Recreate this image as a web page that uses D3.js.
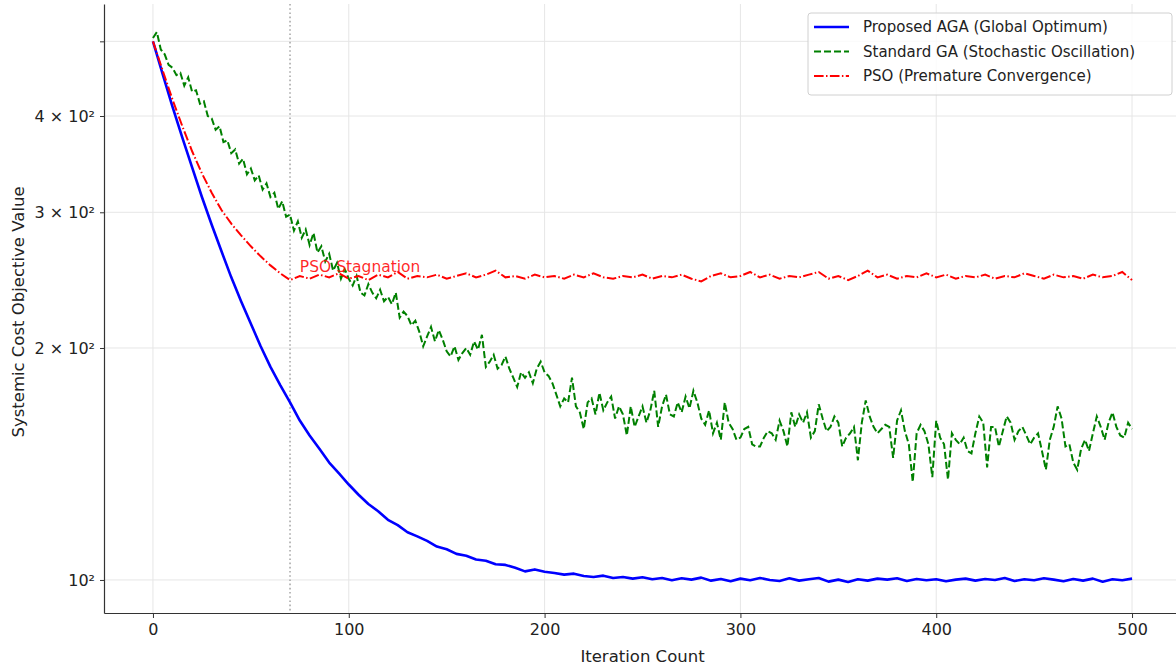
<!DOCTYPE html>
<html>
<head>
<meta charset="utf-8">
<script src="https://cdn.jsdelivr.net/npm/d3@7"></script>
<style>
  body { margin: 0; background: #fff; }
  text { font-family: "DejaVu Sans", sans-serif; }
</style>
</head>
<body>
<div id="chart"></div>
<script>
// series names
const seriesNames = [
    "Proposed AGA (Global Optimum)",
    "Standard GA (Stochastic Oscillation)",
    "PSO (Premature Convergence)"
];

// AGA cost, sampled every 5 iterations (0..500)
const agaValues = [
    500, 453, 411, 375, 343, 314, 289, 267, 247, 230,
    215, 201, 189, 179, 170, 161, 154, 148, 142, 137.5,
    133, 129, 125.5, 122.8, 119.7, 117.8, 115.3, 113.9, 112.4, 110.5,
    109.6, 108.1, 107.5, 106.3, 105.9, 104.8, 104.6, 103.7, 102.6, 103.2,
    102.5, 102.1, 101.6, 101.9, 101.2, 100.9, 101.3, 100.6, 100.9, 100.4,
    100.8, 100.2, 100.6, 99.9, 100.5, 100.1, 100.7, 99.8, 100.3, 99.6,
    100.4, 99.9, 100.6, 100.0, 99.7, 100.5, 99.8, 100.2, 100.6, 99.5,
    100.1, 99.4, 100.2, 99.8, 100.4, 100.1, 100.5, 99.7, 100.3, 99.9,
    100.2, 99.6, 100.1, 100.4, 99.8, 100.3, 100.0, 100.6, 99.7, 100.2,
    99.9, 100.5, 100.1, 99.6, 100.3, 99.8, 100.4, 99.5, 100.2, 99.9,
    100.4
];

// Standard GA cost, sampled every 2 iterations (0..500)
const gaValues = [
    505, 514, 488, 481, 466,  462, 452, 455, 438, 449,
    430, 432, 415, 418, 400,  397, 384, 388, 370, 372,
    358, 362, 347, 352, 336,  342, 330, 335, 321, 327,
    314, 318, 303, 310, 296,  298, 284, 292, 278, 285,
    272, 282, 266, 271, 259,  265, 252, 258, 246, 253,
    246, 241, 248, 236, 234,  242, 236, 232, 238, 230,
    233, 228, 236, 219, 223,  220, 214, 217, 210, 201,
    207, 213, 204, 211, 205,  198, 195, 201, 193, 197,
    200, 196, 204, 199, 208,  189, 192, 196, 188, 190,
    195, 188, 183, 178, 186,  183, 186, 180, 188, 192,
    186, 184, 180, 174, 168,  172, 170, 183, 168, 165,
    157, 170, 172, 164, 175,  166, 170, 173, 162, 168,
    164, 154, 168, 158, 163,  168, 160, 166, 176, 158,
    168, 174, 164, 163, 170,  165, 173, 167, 176, 170,
    162, 159, 166, 155, 160,  152, 170, 160, 157, 152,
    153, 157, 158, 150, 149,  149, 153, 156, 155, 152,
    161, 156, 149, 165, 158,  164, 160, 165, 153, 156,
    169, 162, 156, 158, 163,  160, 149, 153, 155, 158,
    143, 160, 171, 163, 158,  155, 157, 159, 158, 144,
    161, 166, 156, 150, 134,  155, 159, 156, 150, 136,
    161, 153, 150, 135, 155,  152, 150, 153, 147, 146,
    155, 163, 160, 140, 158,  158, 149, 156, 163, 160,
    152, 156, 158, 154, 150,  153, 155, 147, 139, 152,
    158, 168, 162, 149, 150,  142, 139, 148, 152, 147,
    155, 163, 158, 152, 160,  165, 158, 154, 153, 160,
    157
];

// PSO cost, sampled every 5 iterations (0..500)
const psoValues = [
    500, 458, 420, 388, 360, 337, 318, 302, 290, 280,
    271, 263, 256, 250, 245, 248, 246, 249, 247, 250,
    246, 248, 245, 249, 247, 251, 246, 248, 247, 249,
    246, 248, 250, 247, 249, 252, 247, 248, 246, 249,
    247, 248, 246, 249, 247, 250, 247, 246, 248, 247,
    249, 246, 248, 247, 249, 246, 244, 248, 250, 247,
    248, 251, 247, 249, 246, 248, 247, 249, 251, 246,
    248, 245, 248, 252, 247, 249, 246, 248, 247, 250,
    247, 249, 246, 248, 247, 249, 246, 248, 247, 250,
    248, 246, 249, 247, 248, 246, 249, 247, 248, 251,
    245
];

const agaStep = 5, gaStep = 2, psoStep = 5;
const xTicks = [0, 100, 200, 300, 400, 500];
const yTicks = [100, 200, 300, 400, 500];
const yTickLabels = ["10²", "2 × 10²", "3 × 10²", "4 × 10²", ""];
const stagnationIter = 70;
const annotation = { text: "PSO Stagnation", x: 75, y: 250 };

const width = 1176, height = 668;

const svg = d3.select("#chart").append("svg")
    .attr("width", width)
    .attr("height", height)
    .style("display", "block");

const x = d3.scaleLinear().domain([-25, 525]).range([104, 1181]);
const y = d3.scaleLog().domain([90.6, 559]).range([613, 4]);

// grid
svg.append("g").selectAll("line").data(xTicks).join("line")
    .attr("x1", d => x(d)).attr("x2", d => x(d))
    .attr("y1", 4).attr("y2", 613)
    .attr("stroke", "#e6e6e6").attr("stroke-width", 1);
svg.append("g").selectAll("line").data(yTicks).join("line")
    .attr("x1", 104).attr("x2", width)
    .attr("y1", d => y(d)).attr("y2", d => y(d))
    .attr("stroke", "#e6e6e6").attr("stroke-width", 1);

// axes
const xAxis = svg.append("g")
    .attr("transform", "translate(0,613)")
    .call(d3.axisBottom(x).tickValues(xTicks).tickSize(5).tickSizeOuter(0));
const yAxis = svg.append("g")
    .attr("transform", "translate(104,0)")
    .call(d3.axisLeft(y).tickValues(yTicks).tickSize(4).tickSizeOuter(0)
        .tickFormat((d, i) => yTickLabels[i]));

[xAxis, yAxis].forEach(ax => {
    ax.select(".domain").attr("stroke", "#333").attr("stroke-width", 1.2);
    ax.selectAll(".tick line").attr("stroke", "#333");
    ax.selectAll(".tick text").attr("fill", "#222").style("font-size", "16px");
});
xAxis.selectAll(".tick text").attr("dy", "0.9em");
yAxis.selectAll(".tick text").attr("x", -9);

// axis labels
svg.append("text")
    .attr("x", x(250)).attr("y", 662)
    .attr("text-anchor", "middle")
    .style("font-size", "16.5px").attr("fill", "#222")
    .text("Iteration Count");
svg.append("text")
    .attr("transform", "rotate(-90)")
    .attr("x", -312).attr("y", 24)
    .attr("text-anchor", "middle")
    .style("font-size", "16.5px").attr("fill", "#222")
    .text("Systemic Cost Objective Value");

// stagnation marker
svg.append("line")
    .attr("x1", x(stagnationIter)).attr("x2", x(stagnationIter))
    .attr("y1", 4).attr("y2", 613)
    .attr("stroke", "#aaa").attr("stroke-width", 1.6)
    .attr("stroke-dasharray", "1.6 2.6");

const line = step => d3.line()
    .x((d, i) => x(i * step))
    .y(d => y(d));

const plot = svg.append("g");

plot.append("path").datum(agaValues)
    .attr("d", line(agaStep))
    .attr("fill", "none").attr("stroke", "#0000ff")
    .attr("stroke-width", 2.6).attr("stroke-linejoin", "round");

plot.append("path").datum(gaValues)
    .attr("d", line(gaStep))
    .attr("fill", "none").attr("stroke", "#008000")
    .attr("stroke-width", 2).attr("stroke-dasharray", "7 3");

plot.append("path").datum(psoValues)
    .attr("d", line(psoStep))
    .attr("fill", "none").attr("stroke", "#ff0000")
    .attr("stroke-width", 2).attr("stroke-dasharray", "9.6 2.4 1.5 2.4");

// annotation
svg.append("text")
    .attr("x", x(annotation.x)).attr("y", y(annotation.y))
    .attr("dy", "-0.1em")
    .style("font-size", "15.5px")
    .attr("fill", "#ff0000").attr("fill-opacity", 0.85)
    .text(annotation.text);

// legend
const legend = svg.append("g").attr("transform", "translate(808,13)");
legend.append("rect")
    .attr("width", 364).attr("height", 82).attr("rx", 3)
    .attr("fill", "#fff").attr("fill-opacity", 0.8)
    .attr("stroke", "#d0d0d0");

const legendStyles = [
    { color: "#0000ff", dash: null, w: 2.6 },
    { color: "#008000", dash: "7 3", w: 2 },
    { color: "#ff0000", dash: "9.6 2.4 1.5 2.4", w: 2 }
];

seriesNames.forEach((name, i) => {
    const g = legend.append("g").attr("transform", `translate(0,${14 + i * 24.5})`);
    g.append("line")
        .attr("x1", 6).attr("x2", 41)
        .attr("stroke", legendStyles[i].color)
        .attr("stroke-width", legendStyles[i].w)
        .attr("stroke-dasharray", legendStyles[i].dash);
    g.append("text")
        .attr("x", 55).attr("dy", "0.35em")
        .style("font-size", "15px").attr("fill", "#222")
        .text(name);
});
</script>
</body>
</html>
